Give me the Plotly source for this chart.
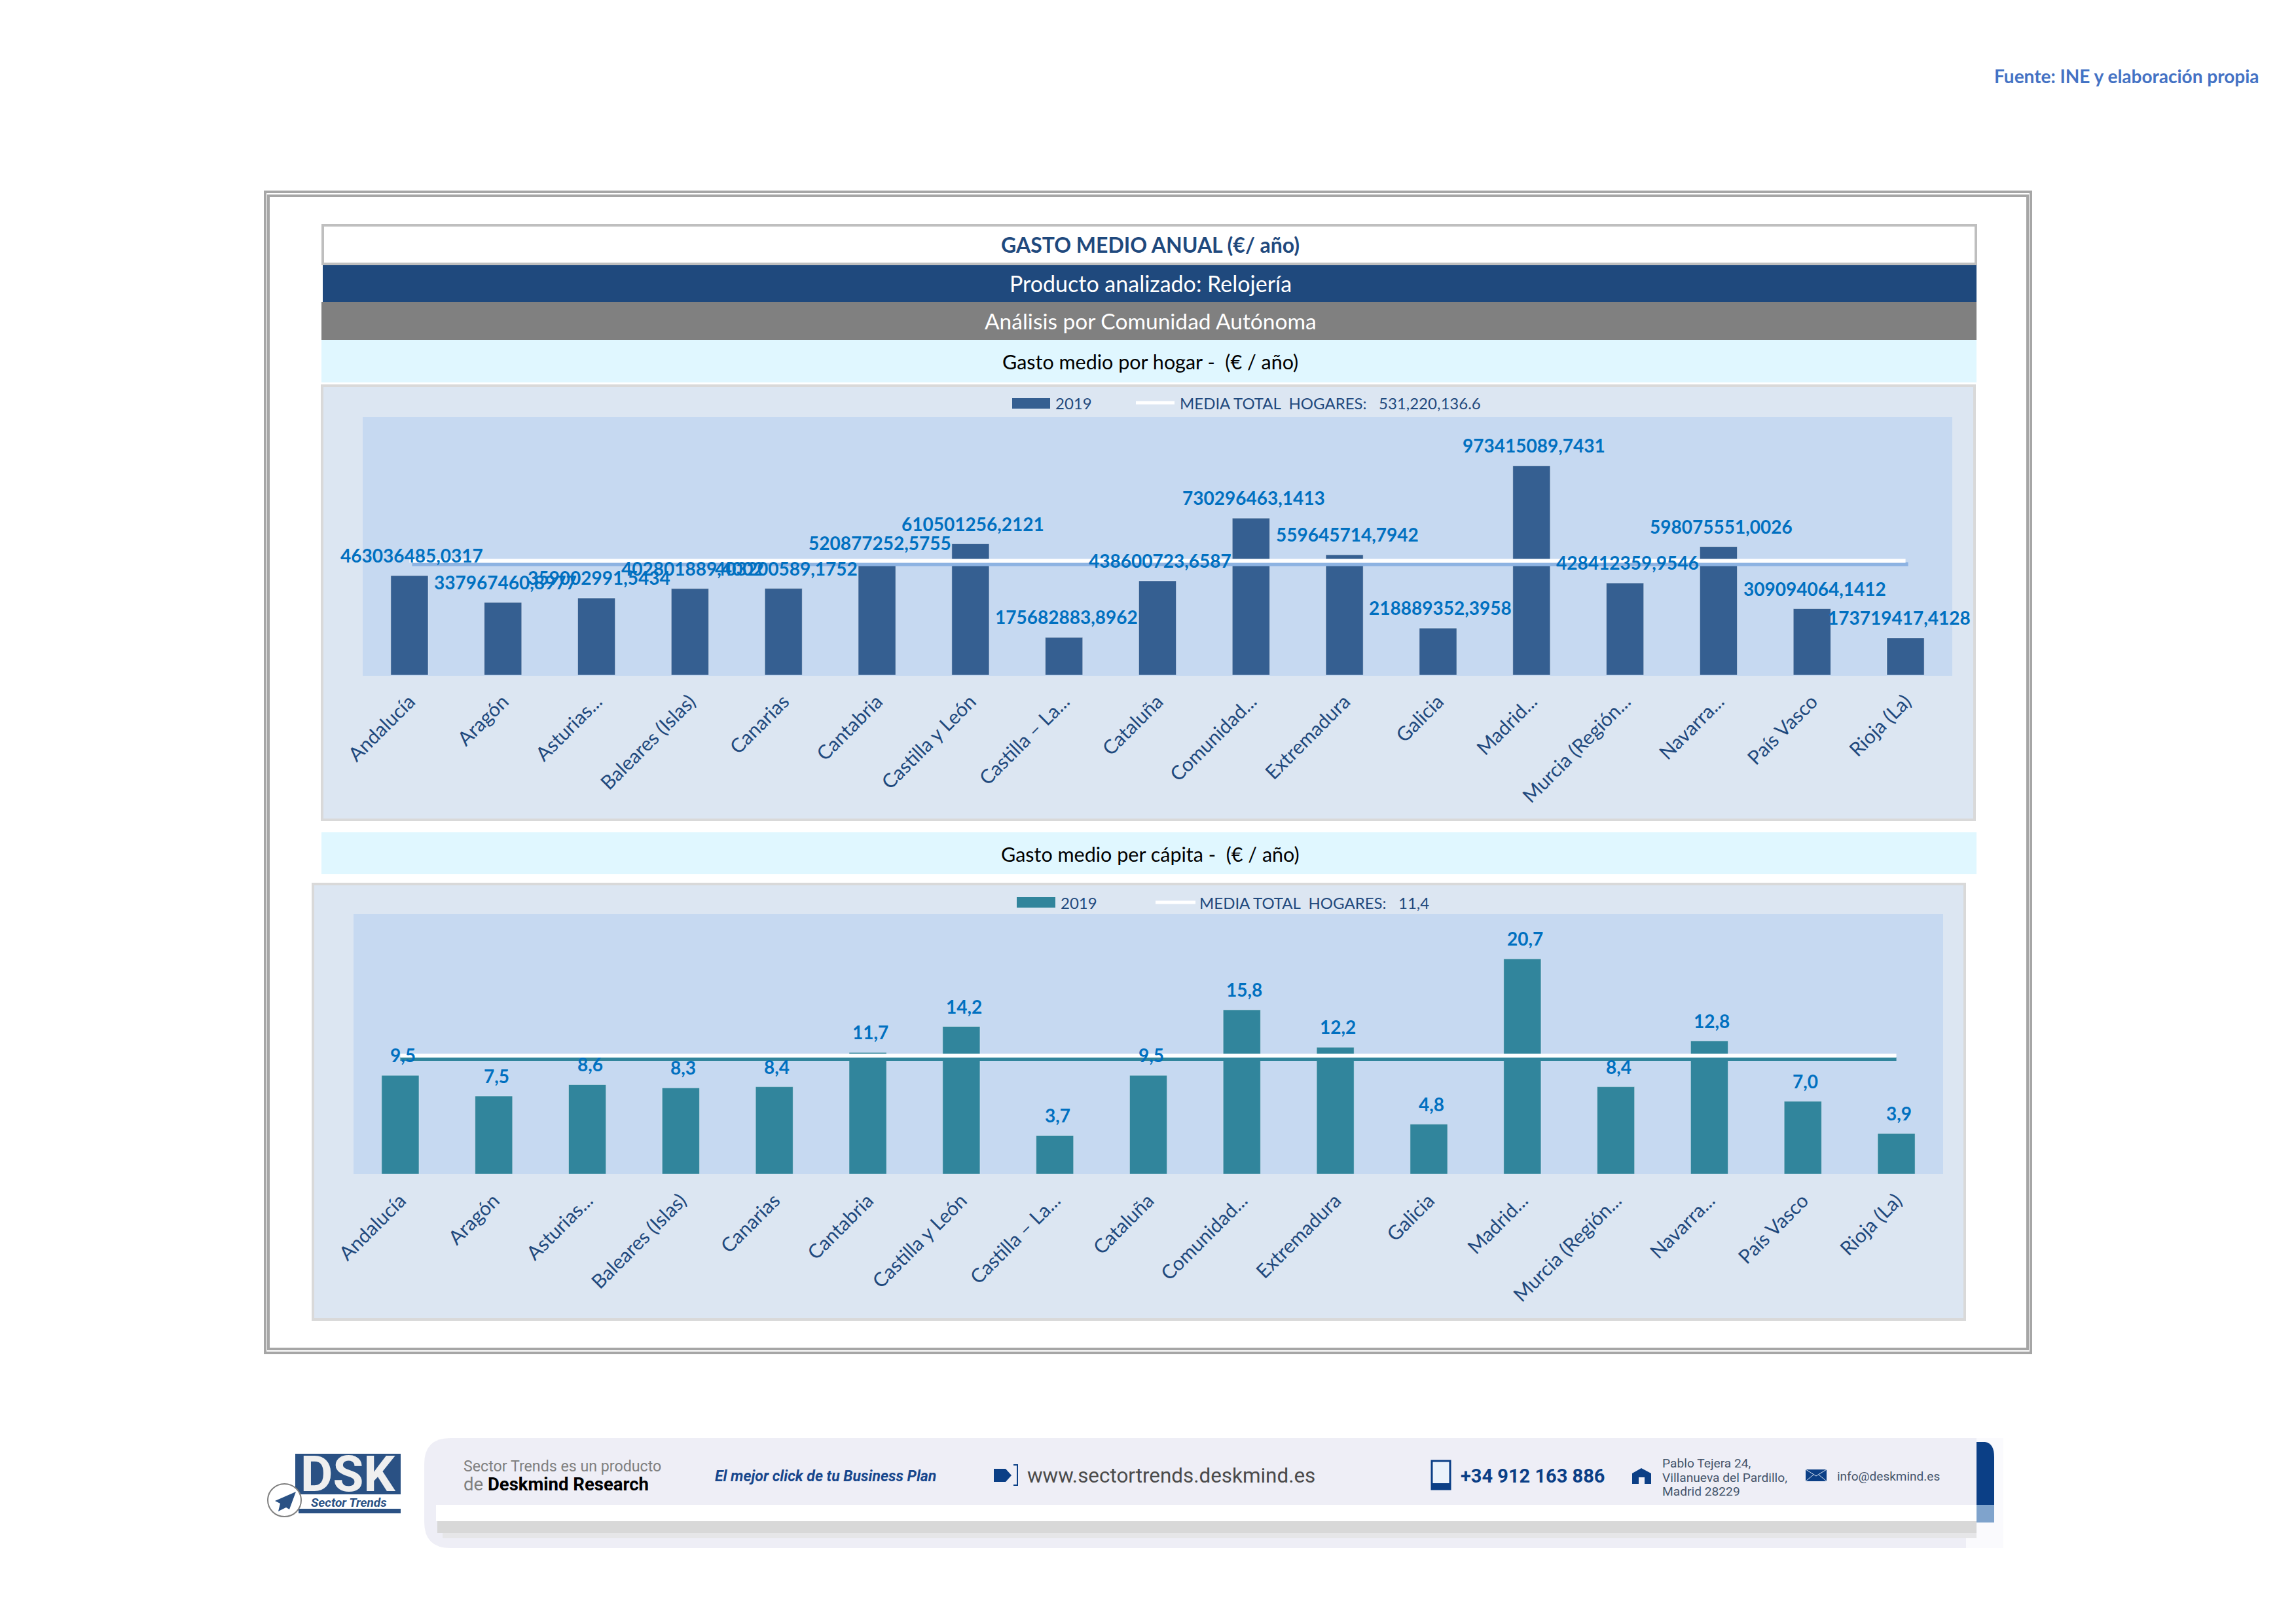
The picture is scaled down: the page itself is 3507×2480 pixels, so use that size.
import plotly.graph_objects as go

W, H = 3507, 2480

categories = ["Andalucía", "Aragón", "Asturias...", "Baleares (Islas)", "Canarias", "Cantabria",
              "Castilla y León", "Castilla – La...", "Cataluña", "Comunidad...", "Extremadura",
              "Galicia", "Madrid...", "Murcia (Región...", "Navarra...", "País Vasco", "Rioja (La)"]
gasto_hogar = [463036485.0317, 337967460.8977, 359002991.5434, 402801889.4002, 403200589.1752,
               520877252.5755, 610501256.2121, 175682883.8962, 438600723.6587, 730296463.1413,
               559645714.7942, 218889352.3958, 973415089.7431, 428412359.9546, 598075551.0026,
               309094064.1412, 173719417.4128]
gasto_capita = [9.5, 7.5, 8.6, 8.3, 8.4, 11.7, 14.2, 3.7, 9.5, 15.8, 12.2, 4.8, 20.7, 8.4, 12.8, 7.0, 3.9]
media_hogar = [531220136.6] * len(categories)
media_capita = [11.4] * len(categories)

NAVY = "#1F497D"
LABEL = "#0070C0"
FONT = "Lato"

def X(v): return v / W
def Y(v): return 1 - v / H

shapes, notes = [], []

def rect(x0, y0, x1, y1, fill=None, line=None, lw=0):
    shapes.append(dict(type="rect", xref="paper", yref="paper", layer="below",
                       x0=X(x0), x1=X(x1), y0=Y(y0), y1=Y(y1),
                       fillcolor=fill or "rgba(0,0,0,0)",
                       line=dict(color=line or "rgba(0,0,0,0)", width=lw)))

def path(cmds, fill=None, line=None, lw=0, layer="above"):
    s = ""
    for c in cmds:
        if isinstance(c, str):
            s += c + " "
        else:
            s += f"{X(c[0]):.6f},{Y(c[1]):.6f} "
    shapes.append(dict(type="path", xref="paper", yref="paper", layer=layer, path=s,
                       fillcolor=fill or "rgba(0,0,0,0)",
                       line=dict(color=line or "rgba(0,0,0,0)", width=lw)))

def text(x, y, t, size, color, anchor="center", family=FONT):
    notes.append(dict(xref="paper", yref="paper", x=X(x), y=Y(y), text=t, showarrow=False,
                      xanchor=anchor, yanchor="middle", align="left" if anchor == "left" else anchor,
                      font=dict(family=family, size=size, color=color)))

# ---- frame and bands
rect(405, 293, 3102, 2066, line="#A6A6A6", lw=4)
rect(410, 299, 3097, 2060, line="#A6A6A6", lw=4)
rect(493, 344, 3018, 403, fill="#FFFFFF", line="#BFBFBF", lw=4)
rect(493, 405, 3019, 461, fill=NAVY)
rect(491, 461, 3019, 519, fill="#808080")
rect(491, 519, 3019, 584, fill="#E0F7FF")
rect(491, 1271, 3019, 1335, fill="#E0F7FF")

text(1757, 373, "<b>GASTO MEDIO ANUAL (€/ año)</b>", 32, NAVY)
text(1757, 432, "Producto analizado: Relojería", 34, "#FFFFFF")
text(1757, 490, "Análisis por Comunidad Autónoma", 33.5, "#FFFFFF")
text(1757, 552, "Gasto medio por hogar -  (€ / año)", 30.5, "#000000")
text(1757, 1304, "Gasto medio per cápita -  (€ / año)", 30.5, "#000000")
text(3453, 116, "<b>Fuente: INE y elaboración propia</b>", 28, "#4472C4", anchor="right")

# ---- chart panels
panels = [
    dict(panel=(492, 589, 3016, 1252), plot=(554, 637, 2982, 1031), bg_bottom=1032,
         values=gasto_hogar, mean=media_hogar,
         color="#355F91", shadow="#8DB3E2", ymax=1.2e9, dec=4, ax=(1, 2, 3), sx=4, last_shift=-10,
         leg=(1546, 1604, 608, 624, 1610, 1735, 1794, 1800, 615),
         legtext="MEDIA TOTAL  HOGARES:   531,220,136.6"),
    dict(panel=(478, 1350, 3001, 2015), plot=(540, 1396, 2968, 1793), bg_bottom=1793,
         values=gasto_capita, mean=media_capita,
         color="#31859C", shadow="#31859C", ymax=25, dec=1, ax=(4, 5, 6), sx=0, last_shift=4,
         leg=(1553, 1612, 1370, 1386, 1618, 1765, 1826, 1830, 1378),
         legtext="MEDIA TOTAL  HOGARES:   11,4"),
]

fig = go.Figure()
layout_axes = {}

def axname(n, kind):
    return kind + ("axis" if n == 1 else f"axis{n}")

def ref(n, kind):
    return kind if n == 1 else f"{kind}{n}"

for p in panels:
    x0, y0, x1, y1 = p["panel"]
    rect(x0, y0, x1, y1, fill="#DCE6F2", line="#D9D9D9", lw=4)
    px0, py0, px1, py1 = p["plot"]
    rect(px0, py0, px1, p["bg_bottom"], fill="#C6D9F1")

    a_bar, a_sh, a_top = p["ax"]
    for n, dx, dy in ((a_bar, 0, 0), (a_sh, p["sx"], 5), (a_top, 0, 0)):
        layout_axes[axname(n, "x")] = dict(
            domain=[X(px0 + dx), X(px1 + dx)], anchor=ref(n, "y"), type="category",
            range=[-0.5, 16.5], showgrid=False, zeroline=False, showline=False, ticks="",
            showticklabels=(n == a_bar), tickangle=-45, automargin=False, ticklabelstandoff=16,
            tickfont=dict(family=FONT, size=30, color=NAVY))
        layout_axes[axname(n, "y")] = dict(
            domain=[Y(py1 + dy), Y(py0 + dy)], anchor=ref(n, "x"), range=[0, p["ymax"]],
            visible=False, showgrid=False, zeroline=False)

    fig.add_trace(go.Bar(x=categories, y=p["values"], name="2019", marker_color=p["color"], width=0.4,
                         xaxis=ref(a_bar, "x"), yaxis=ref(a_bar, "y"), hoverinfo="x+y"))
    fig.add_trace(go.Scatter(x=categories, y=p["mean"], mode="lines", name="sombra", showlegend=False,
                             line=dict(color=p["shadow"], width=6),
                             xaxis=ref(a_sh, "x"), yaxis=ref(a_sh, "y"), hoverinfo="skip"))
    fig.add_trace(go.Scatter(x=categories, y=p["mean"], mode="lines", name="MEDIA TOTAL HOGARES",
                             line=dict(color="#FFFFFF", width=6),
                             xaxis=ref(a_top, "x"), yaxis=ref(a_top, "y")))

    for i, (c, v) in enumerate(zip(categories, p["values"])):
        notes.append(dict(x=c, y=v, xref=ref(a_top, "x"), yref=ref(a_top, "y"), showarrow=False,
                          text="<b>" + f"{v:.{p['dec']}f}".replace(".", ",") + "</b>",
                          xanchor="center", yanchor="middle",
                          xshift=p["last_shift"] if i == len(categories) - 1 else 4, yshift=31,
                          font=dict(family=FONT, size=28, color=LABEL)))

    s0, s1, ly0, ly1, t1, l0, l1, t2, ly = p["leg"]
    rect(s0, ly0, s1, ly1, fill=p["color"])
    text(t1, ly, "2019", 24, NAVY, anchor="left")
    shapes.append(dict(type="line", xref="paper", yref="paper", x0=X(l0), x1=X(l1), y0=Y(ly), y1=Y(ly),
                       line=dict(color="#FFFFFF", width=5)))
    text(t2, ly, p["legtext"], 24, NAVY, anchor="left")

# ---- footer banner
def rounded(x0, y0, x1, y1, r, fill):
    path(["M", (x0 + r, y0), "L", (x1, y0), "L", (x1, y1), "L", (x0 + r, y1),
          "Q", (x0, y1), (x0, y1 - r), "L", (x0, y0 + r), "Q", (x0, y0), (x0 + r, y0), "Z"],
         fill=fill, layer="below")

rect(3003, 2196, 3060, 2364, fill="#FAFAFD")
rounded(648, 2196, 3003, 2364, 40, "#EEEEF6")
rect(2990, 2196, 3019, 2298, fill="#EEEEF6")
rect(666, 2298, 3019, 2323, fill="#FFFFFF")
rect(668, 2323, 3019, 2341, fill="#D8D8D8")
rect(676, 2341, 3019, 2349, fill="#E6E6E8")
path(["M", (3019, 2202), "L", (3032, 2202), "Q", (3046, 2204), (3046, 2225), "L", (3046, 2298), "L", (3019, 2298), "Z"],
     fill="#0B3F86", layer="below")
rect(3019, 2298, 3046, 2325, fill="#7FA3CC")

# logo
rect(451, 2220, 612, 2282, fill="#2A5184")
rect(456, 2304, 612, 2311, fill="#2A5184")
text(531, 2251, "<b>DSK</b>", 76, "#EFEFEF", family="Roboto")
text(533, 2294, "<i><b>Sector Trends</b></i>", 19, "#2A5184", family="Roboto")
shapes.append(dict(type="circle", xref="paper", yref="paper", x0=X(409), x1=X(460), y0=Y(2316), y1=Y(2266),
                   fillcolor="#FFFFFF", line=dict(color="#808080", width=2)))
path(["M", (452, 2278), "L", (420, 2292), "L", (428, 2296), "L", (425, 2308), "L", (437, 2302), "L", (442, 2305), "Z"],
     fill="#2A5184")

# banner text
text(706, 2239, "Sector Trends es un producto", 23.2, "#7F7F7F", anchor="left", family="Roboto")
text(706, 2266, "<span style='color:#7F7F7F'>de </span><b>Deskmind Research</b>", 27.5, "#000000",
     anchor="left", family="Roboto")
text(1090, 2254, "<b><i>El mejor click de tu Business Plan</i></b>", 23, "#17468C", anchor="left", family="Roboto")
text(1567, 2253, "www.sectortrends.deskmind.es", 31.4, "#4A4A4A", anchor="left", family="Roboto")
text(2229, 2254, "<b>+34 912 163 886</b>", 29, "#0B3F86", anchor="left", family="Roboto")
text(2537, 2234, "Pablo Tejera 24,", 19.2, "#44546A", anchor="left", family="Roboto")
text(2537, 2256, "Villanueva del Pardillo,", 19.2, "#44546A", anchor="left", family="Roboto")
text(2537, 2277, "Madrid 28229", 19.2, "#44546A", anchor="left", family="Roboto")
text(2804, 2254, "info@deskmind.es", 19, "#44546A", anchor="left", family="Roboto")

# icons
path(["M", (1518, 2243), "L", (1536, 2243), "L", (1545, 2253), "L", (1536, 2263), "L", (1518, 2263), "Z"], fill="#0B3F86")
path(["M", (1548, 2237), "L", (1554, 2237), "L", (1554, 2268), "L", (1548, 2268)], line="#0B3F86", lw=2)
rect(2187, 2231, 2215, 2274, fill="#EAF2FB", line="#0B3F86", lw=3)
rect(2187, 2265, 2215, 2275, fill="#0B3F86")
path(["M", (2493, 2266), "L", (2493, 2250), "L", (2507, 2242), "L", (2522, 2250), "L", (2522, 2266),
      "L", (2512, 2266), "L", (2512, 2256), "L", (2503, 2256), "L", (2503, 2266), "Z"], fill="#0B3F86")
rect(2758, 2244, 2790, 2262, fill="#0B3F86")
path(["M", (2758, 2244), "L", (2774, 2254), "L", (2790, 2244), "M", (2758, 2262), "L", (2770, 2252),
      "M", (2790, 2262), "L", (2778, 2252)], line="#DCE6F2", lw=1)

fig.update_layout(width=W, height=H, margin=dict(l=0, r=0, t=0, b=0), paper_bgcolor="#FFFFFF",
                  plot_bgcolor="rgba(0,0,0,0)", showlegend=False, shapes=shapes, annotations=notes,
                  font=dict(family=FONT), bargap=0.6, **layout_axes)

fig.write_html("out.html", config={"displayModeBar": False},
               post_script="document.body.style.margin='0';document.documentElement.style.overflow='hidden';")
